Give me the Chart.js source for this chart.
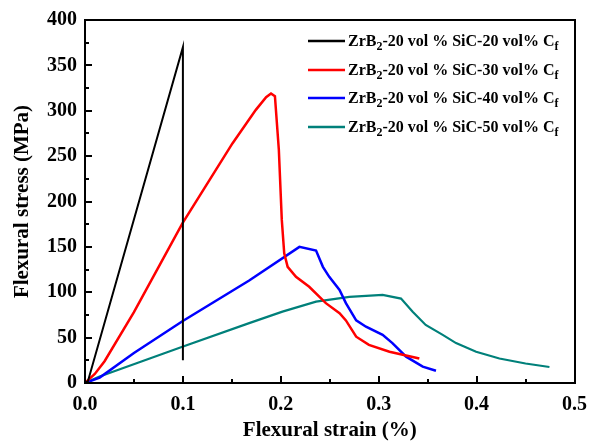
<!DOCTYPE html>
<html>
<head>
<meta charset="utf-8">
<script src="https://cdn.jsdelivr.net/npm/chart.js@4"></script>
<style>
  body { margin: 0; background: #fff; }
  #wrap { width: 589px; height: 443px; position: relative; }
  .mark { position: absolute; background: #000; pointer-events: none; }
</style>
</head>
<body>
<div id="wrap"><canvas id="stressChart" width="589" height="443"></canvas></div>
<script>
// series: strain (%) and stress (MPa)
var cf20Strain = [0, 0.003, 0.1, 0.1];
var cf20Stress = [0, 2, 370, 25];

var cf30Strain = [0, 0.01, 0.02, 0.05, 0.0995, 0.1506, 0.1745, 0.185, 0.19, 0.194, 0.198, 0.201, 0.2035, 0.207, 0.2155, 0.229, 0.246, 0.26, 0.2665, 0.277, 0.29, 0.311, 0.3415];
var cf30Stress = [0, 10, 24, 78, 176, 264, 301, 315, 319, 316, 257, 180, 143, 128, 117, 106, 88, 77, 69, 51, 42, 34.5, 27];

var cf40Strain = [0, 0.015, 0.05, 0.0995, 0.1677, 0.219, 0.236, 0.243, 0.2495, 0.26, 0.2665, 0.277, 0.287, 0.304, 0.314, 0.328, 0.345, 0.3585];
var cf40Stress = [0, 6, 33, 68, 113, 150, 146, 128, 117, 102.5, 88, 69, 62, 53, 44, 29, 18, 13.5];

var cf50Strain = [0, 0.0143, 0.0995, 0.1677, 0.2017, 0.236, 0.27, 0.304, 0.3228, 0.3347, 0.348, 0.3654, 0.379, 0.3995, 0.4233, 0.45, 0.4744];
var cf50Stress = [0, 7, 40, 66, 78.6, 89.6, 95, 97, 93, 78.6, 64, 53, 44, 34.5, 27, 21.5, 17.6];

var seriesNames = ['20', '30', '40', '50'];
var seriesColors = ['#000000', '#ff0000', '#0000ff', '#00807a'];

function toPoints(xs, ys) {
    return xs.map(function (x, i) { return { x: x, y: ys[i] }; });
}

var serif = "'Liberation Serif', 'Times New Roman', serif";

// legend with subscripts
var legendPlugin = {
    id: 'subLegend',
    afterDraw: function (chart) {
        var ctx = chart.ctx;
        var rowY = [41, 70, 98, 127];
        var big = 'bold 16px ' + serif;
        var small = 'bold 12px ' + serif;
        ctx.save();
        ctx.textBaseline = 'alphabetic';
        seriesNames.forEach(function (n, i) {
            var y = rowY[i];
            ctx.fillStyle = seriesColors[i];
            ctx.fillRect(308, y - 1.25, 37, 2.5);
            ctx.fillStyle = '#000000';
            var parts = [
                ['ZrB', big, 0],
                ['2', small, 4],
                ['-20 vol % SiC-' + n + ' vol% C', big, 0],
                ['f', small, 4]
            ];
            var x = 348;
            var base = y + 5;
            parts.forEach(function (p) {
                ctx.font = p[1];
                ctx.fillText(p[0], x, base + p[2]);
                x += ctx.measureText(p[0]).width;
            });
        });
        ctx.restore();
    }
};

var stressCtx = document.getElementById('stressChart').getContext('2d');
var stressChart = new Chart(stressCtx, {
    type: 'scatter',
    data: {
        datasets: [
            { label: 'Cf 20', data: toPoints(cf20Strain, cf20Stress), borderColor: seriesColors[0], borderWidth: 2, showLine: true },
            { label: 'Cf 30', data: toPoints(cf30Strain, cf30Stress), borderColor: seriesColors[1], borderWidth: 2.5, showLine: true },
            { label: 'Cf 40', data: toPoints(cf40Strain, cf40Stress), borderColor: seriesColors[2], borderWidth: 2.5, showLine: true },
            { label: 'Cf 50', data: toPoints(cf50Strain, cf50Stress), borderColor: seriesColors[3], borderWidth: 2.2, showLine: true }
        ]
    },
    options: {
        responsive: false,
        animation: false,
        events: [],
        elements: { point: { radius: 0, hoverRadius: 0 }, line: { tension: 0 } },
        layout: { padding: { top: 20, right: 14 } },
        plugins: { legend: { display: false }, tooltip: { enabled: false } },
        scales: {
            x: {
                min: 0, max: 0.5,
                grid: { display: false },
                border: { display: true, color: '#000', width: 2 },
                ticks: {
                    stepSize: 0.05,
                    padding: 2,
                    autoSkip: false,
                    maxRotation: 0,
                    color: '#000',
                    font: { family: serif, size: 20, weight: 'bold' },
                    callback: function (v) {
                        return Math.abs(v * 10 - Math.round(v * 10)) < 1e-6 ? v.toFixed(1) : '';
                    }
                },
                title: {
                    display: true,
                    text: 'Flexural strain (%)',
                    color: '#000',
                    font: { family: serif, size: 21, weight: 'bold' },
                    padding: { top: 1, bottom: 0 }
                },
                afterFit: function (s) { s.height = 60; }
            },
            y: {
                min: 0, max: 400,
                grid: { display: false },
                border: { display: true, color: '#000', width: 2 },
                ticks: {
                    stepSize: 25,
                    padding: 0,
                    autoSkip: false,
                    color: '#000',
                    font: { family: serif, size: 20, weight: 'bold' },
                    callback: function (v) { return v % 50 === 0 ? v : ''; }
                },
                title: {
                    display: true,
                    text: 'Flexural stress (MPa)',
                    color: '#000',
                    font: { family: serif, size: 21, weight: 'bold' },
                    padding: { top: 10, bottom: 0 }
                },
                afterFit: function (s) { s.width = 85; }
            }
        }
    },
    plugins: [legendPlugin]
});

// frame and inward tick marks, placed from the chart's own scales
(function () {
    var wrap = document.getElementById('wrap');
    var xs = stressChart.scales.x, ys = stressChart.scales.y;
    var left = Math.round(xs.getPixelForValue(xs.min)), right = Math.round(xs.getPixelForValue(xs.max));
    var top = Math.round(ys.getPixelForValue(ys.max)), bottom = Math.round(ys.getPixelForValue(ys.min));

    function mark(x, y, w, h) {
        var d = document.createElement('div');
        d.className = 'mark';
        d.style.left = x + 'px';
        d.style.top = y + 'px';
        d.style.width = w + 'px';
        d.style.height = h + 'px';
        wrap.appendChild(d);
    }

    mark(left - 1, top - 1, right - left + 2, 2);
    mark(left - 1, bottom - 1, right - left + 2, 2);
    mark(left - 1, top - 1, 2, bottom - top + 2);
    mark(right - 1, top - 1, 2, bottom - top + 2);

    xs.ticks.forEach(function (t) {
        var major = Math.abs(t.value * 10 - Math.round(t.value * 10)) < 1e-6;
        var len = major ? 7 : 4;
        mark(Math.round(xs.getPixelForValue(t.value)) - 1, bottom - len, 2, len);
    });
    ys.ticks.forEach(function (t) {
        var major = t.value % 50 === 0;
        var len = major ? 7 : 4;
        mark(left, Math.round(ys.getPixelForValue(t.value)) - 1, len, 2);
    });
})();
</script>
</body>
</html>
